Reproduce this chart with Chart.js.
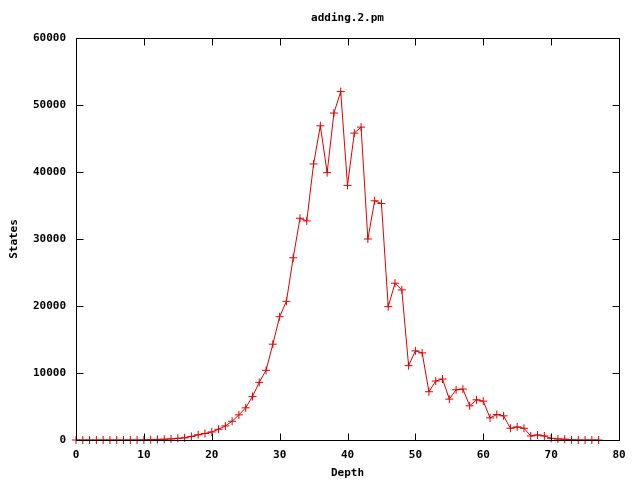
<!DOCTYPE html>
<html>
<head>
<meta charset="utf-8">
<script src="https://cdn.jsdelivr.net/npm/chart.js@4/dist/chart.umd.min.js"></script>
<style>
html,body{margin:0;padding:0;background:#fff;}
#wrap{width:640px;height:480px;}
</style>
</head>
<body>
<div id="wrap"><canvas id="c" width="640" height="480"></canvas></div>
<script>
const chartTitle = "adding.2.pm";
const xTitle = "Depth";
const yTitle = "States";
const depths = [];
for (let i = 0; i <= 77; i++) depths.push(i);
const states = [
  0, 0, 0, 0, 0, 0, 0, 0, 0, 0,
  20, 50, 90, 110, 160, 250, 320, 530, 780, 970,
  1200, 1600, 2100, 2800, 3750, 4800, 6500, 8600, 10400, 14300,
  18400, 20700, 27200, 33100, 32700, 41200, 46900, 39900, 48800, 52000,
  38000, 45800, 46700, 30000, 35700, 35300, 19900, 23400, 22400, 11100,
  13300, 13000, 7200, 8800, 9100, 6100, 7500, 7600, 5100, 6000,
  5800, 3300, 3800, 3600, 1750, 1950, 1750, 600, 750, 600,
  250, 150, 120, 30, 0, 0, 0, 0
];
const xTicks = [0, 10, 20, 30, 40, 50, 60, 70, 80];
const yTicks = [0, 10000, 20000, 30000, 40000, 50000, 60000];

const FONT = '"DejaVu Sans Mono", "Liberation Mono", monospace';
const RED = '#e00000';

const framePlugin = {
  id: 'frame',
  afterDatasetsDraw(chart) {
    const ctx = chart.ctx, a = chart.chartArea;
    const xs = chart.scales.x, ys = chart.scales.y;
    ctx.save();
    ctx.strokeStyle = '#000';
    ctx.lineWidth = 1;
    ctx.beginPath();
    const L = Math.round(a.left) + 0.5, R = Math.round(a.right) + 0.5;
    const T = Math.round(a.top) + 0.5, B = Math.round(a.bottom) + 0.5;
    ctx.rect(L, T, R - L, B - T);
    const tl = 7;
    xTicks.forEach(v => {
      const px = Math.round(xs.getPixelForValue(v)) + 0.5;
      ctx.moveTo(px, B); ctx.lineTo(px, B - tl);
      ctx.moveTo(px, T); ctx.lineTo(px, T + tl);
    });
    yTicks.forEach(v => {
      const py = Math.round(ys.getPixelForValue(v)) + 0.5;
      ctx.moveTo(L, py); ctx.lineTo(L + tl, py);
      ctx.moveTo(R, py); ctx.lineTo(R - tl, py);
    });
    ctx.stroke();
    ctx.restore();
  }
};

new Chart(document.getElementById('c'), {
  type: 'line',
  data: {
    datasets: [{
      data: depths.map((d, i) => ({x: d, y: states[i]})),
      borderColor: RED,
      backgroundColor: RED,
      pointBorderColor: RED,
      pointBackgroundColor: RED,
      borderWidth: 1,
      pointStyle: 'cross',
      pointRadius: 4,
      pointBorderWidth: 1,
      pointHoverRadius: 4,
      tension: 0,
      fill: false,
      clip: false
    }]
  },
  options: {
    responsive: false,
    animation: false,
    devicePixelRatio: 1,
    layout: {padding: {left: 0, right: 21, top: 0, bottom: 0}},
    plugins: {
      legend: {display: false},
      tooltip: {enabled: false},
      title: {
        display: true,
        text: chartTitle,
        fullSize: false,
        color: '#000',
        font: {family: FONT, size: 11, weight: 'bold', lineHeight: 1.2},
        padding: {top: 12, bottom: 12.8}
      }
    },
    scales: {
      x: {
        type: 'linear',
        min: 0, max: 80,
        afterFit(s) { s.height = 40; },
        afterBuildTicks(s) { s.ticks = xTicks.map(v => ({value: v})); },
        grid: {display: false, drawTicks: false},
        border: {display: false},
        ticks: {
          color: '#000',
          padding: 9,
          maxRotation: 0,
          font: {family: FONT, size: 11, weight: 'bold'}
        },
        title: {
          display: true, text: xTitle, color: '#000',
          font: {family: FONT, size: 11, weight: 'bold'},
          padding: {top: 5, bottom: 0}
        }
      },
      y: {
        type: 'linear',
        min: 0, max: 60000,
        afterFit(s) { s.width = 76; },
        afterBuildTicks(s) { s.ticks = yTicks.map(v => ({value: v})); },
        grid: {display: false, drawTicks: false},
        border: {display: false},
        ticks: {
          color: '#000',
          padding: 10,
          font: {family: FONT, size: 11, weight: 'bold'},
          callback: v => String(v)
        },
        title: {
          display: true, text: yTitle, color: '#000',
          font: {family: FONT, size: 11, weight: 'bold'},
          padding: {top: 8, bottom: 0}
        }
      }
    }
  },
  plugins: [framePlugin]
});
</script>
</body>
</html>
